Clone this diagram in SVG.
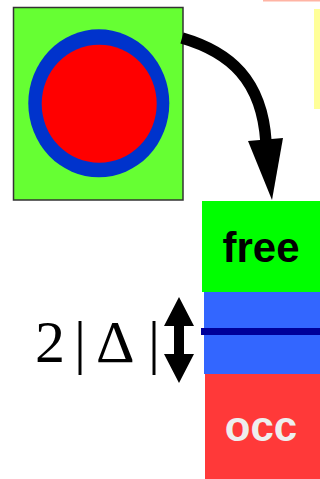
<svg xmlns="http://www.w3.org/2000/svg" width="320" height="479" viewBox="0 0 320 479">
<style>
.lbl{font-family:"Liberation Sans",Arial,sans-serif;font-weight:bold;font-size:42px;text-anchor:middle}
.math{font-family:"Liberation Serif","Times New Roman",serif;font-size:60px}
</style>
<rect width="320" height="479" fill="#ffffff"/>
<rect x="263" y="0" width="57" height="1.5" fill="#ffb4a4"/>
<rect x="314" y="9" width="6" height="100" fill="#ffff99"/>
<g id="atom">
<rect x="13.5" y="7.5" width="169.5" height="192.5" fill="#66ff33" stroke="#333333" stroke-width="1.5"/>
<ellipse cx="98.8" cy="103.3" rx="70.5" ry="74" fill="#0033cc"/>
<ellipse cx="99.2" cy="103.8" rx="57.5" ry="59" fill="#ff0000"/>
</g>
<g id="connectors">
<path d="M182,38 C230,52 262,80 266,142" fill="none" stroke="#000" stroke-width="11.5"/>
<polygon points="248,141 283,138 272,200" fill="#000"/>
<polygon points="179,297 194,326 184,326 184,354 194,354 179,383 164,354 174,354 174,326 164,326" fill="#000"/>
</g>
<g id="free">
<rect x="202" y="201" width="118" height="91" fill="#00ff00"/>
<text class="lbl" x="261" y="262" fill="#000">free</text>
</g>
<g id="gap">
<rect x="204" y="292" width="116" height="82" fill="#3366ff"/>
<rect x="201" y="328" width="119" height="7" fill="#000099"/>
</g>
<g id="occ">
<rect x="205" y="374" width="115" height="105" fill="#ff3939"/>
<text class="lbl" x="261" y="441" fill="#eeeeee">occ</text>
</g>
<text class="math" y="362"><tspan x="35">2</tspan><tspan x="74">|</tspan><tspan x="96">Δ</tspan><tspan x="148">|</tspan></text>
</svg>
